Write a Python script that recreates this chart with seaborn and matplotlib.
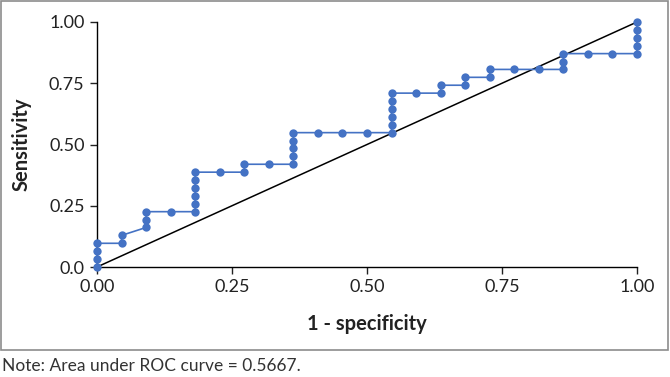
import numpy as np
import pandas as pd
import matplotlib
matplotlib.use('Agg')
import matplotlib.pyplot as plt
import matplotlib.patches as mpatches
import seaborn as sns

# ROC points: 22 negatives, 31 positives
n_neg = 22
n_pos = 31
fp_counts = [0, 0, 0, 0, 1, 1, 2, 2, 2, 3, 4, 4, 4, 4, 4, 4, 5, 6, 6, 7, 8,
             8, 8, 8, 8, 9, 10, 11, 12, 12, 12, 12, 12, 12, 13, 14, 14, 15,
             15, 16, 16, 17, 18, 19, 19, 19, 20, 21, 22, 22, 22, 22, 22]
tp_counts = [0, 1, 2, 3, 3, 4, 5, 6, 7, 7, 7, 8, 9, 10, 11, 12, 12, 12, 13,
             13, 13, 14, 15, 16, 17, 17, 17, 17, 17, 18, 19, 20, 21, 22, 22,
             22, 23, 23, 24, 24, 25, 25, 25, 25, 26, 27, 27, 27, 27, 28, 29,
             30, 31]
x_ticks = [0, 0.25, 0.5, 0.75, 1.0]
x_tick_labels = ['0.00', '0.25', '0.50', '0.75', '1.00']
y_ticks = [0, 0.25, 0.5, 0.75, 1.0]
y_tick_labels = ['0.0', '0.25', '0.50', '0.75', '1.00']
auc_note = 'Note: Area under ROC curve = 0.5667.'

df = pd.DataFrame({
    'fpr': np.array(fp_counts) / n_neg,
    'tpr': np.array(tp_counts) / n_pos,
    'order': range(len(fp_counts)),
})

sns.set_style('ticks')
plt.rcParams['font.family'] = ['Lato', 'DejaVu Sans']

blue = '#4472C4'
fig = plt.figure(figsize=(6.7, 3.77), dpi=100)
ax = fig.add_axes([97 / 670, 1 - 267 / 377, 540 / 670, 245 / 377])

# chance line
ax.plot([0, 1], [0, 1], color='black', lw=1.1, zorder=2)

sns.lineplot(data=df, x='fpr', y='tpr', sort=False, estimator=None,
             color=blue, lw=1.2, marker='o', markersize=6,
             markeredgewidth=0, ax=ax, zorder=3, clip_on=False)

ax.set_xlim(0, 1)
ax.set_ylim(0, 1)
ax.set_xticks(x_ticks)
ax.set_xticklabels(x_tick_labels)
ax.set_yticks(y_ticks)
ax.set_yticklabels(y_tick_labels)
ax.tick_params(axis='both', labelsize=13, colors='#222222', length=5,
               width=1, direction='out', pad=4)
for s in ['top', 'right']:
    ax.spines[s].set_visible(False)
for s in ['left', 'bottom']:
    ax.spines[s].set_color('black')
    ax.spines[s].set_linewidth(1)

ax.set_xlabel('1 - specificity', fontsize=14.5, fontweight='bold',
              color='#222222')
ax.set_ylabel('Sensitivity', fontsize=14.5, fontweight='bold',
              color='#222222')
ax.xaxis.set_label_coords(0.5, -0.19)
ax.yaxis.set_label_coords(-0.122, 0.5)

# frame round the chart panel
frame = mpatches.Rectangle((1 / 670, 1 - 350 / 377), 667 / 670, 349 / 377,
                           transform=fig.transFigure, fill=False,
                           edgecolor='#8c8c8c', lw=1.2)
fig.patches.append(frame)

fig.text(2 / 670, 1 - 366 / 377, auc_note, fontsize=12.5, color='#333333',
         va='center', ha='left')

fig.savefig('out.png', dpi=100)
